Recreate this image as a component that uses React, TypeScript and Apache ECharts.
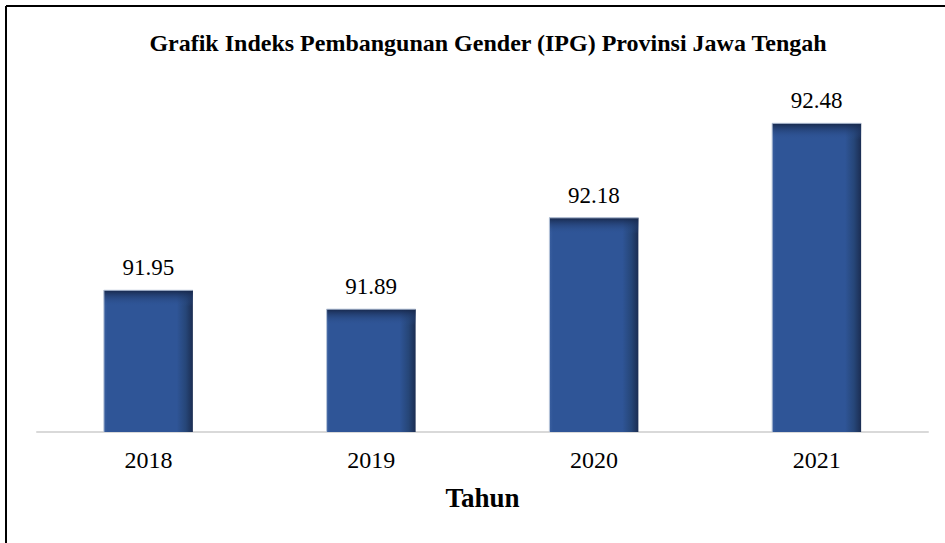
import React, { useEffect, useRef } from "react";
import * as echarts from "echarts";

const categories = ["2018", "2019", "2020", "2021"];
const values = [91.95, 91.89, 92.18, 92.48];
const titleText = "Grafik Indeks Pembangunan Gender (IPG) Provinsi Jawa Tengah";
const axisName = "Tahun";
const yMin = 91.5;
const yMax = 92.6;

const FONT = "Liberation Serif";

export default function App() {
  const ref = useRef<HTMLDivElement>(null);
  useEffect(() => {
    if (!ref.current) return;
    const chart = echarts.init(ref.current, null, { renderer: "svg" });
    const option: any = {
      animation: false,
      backgroundColor: "#ffffff",
      title: {
        text: titleText,
        left: 483,
        textAlign: "center",
        top: 26,
        textStyle: { fontFamily: FONT, fontSize: 24, fontWeight: "bold", color: "#000" },
      },
      grid: { left: 37, right: 17, top: 85.5, bottom: 111, containLabel: false },
      xAxis: {
        type: "category",
        data: categories,
        axisLine: { show: true, lineStyle: { color: "#d9d9d9", width: 2 } },
        axisTick: { show: false },
        axisLabel: { fontFamily: FONT, fontSize: 24, color: "#000", margin: 16 },
        name: axisName,
        nameLocation: "middle",
        nameGap: 52,
        nameTextStyle: { fontFamily: FONT, fontSize: 27, fontWeight: "bold", color: "#000" },
      },
      yAxis: {
        type: "value",
        min: yMin,
        max: yMax,
        show: false,
        splitLine: { show: false },
      },
      graphic: [
        { type: "line", shape: { x1: 6, y1: 6, x2: 945, y2: 6 }, style: { stroke: "#000", lineWidth: 2 }, z: 100 },
        { type: "line", shape: { x1: 6, y1: 6, x2: 6, y2: 543 }, style: { stroke: "#000", lineWidth: 2 }, z: 100 },
      ],
      series: [
        {
          type: "custom",
          data: values.map((v, i) => [i, v]),
          renderItem: (params: any, api: any) => {
            const cat = api.value(0);
            const val = api.value(1);
            const top = api.coord([cat, val]);
            const base = api.coord([cat, yMin]);
            const w = 89;
            const x = top[0] - w / 2;
            const y = top[1];
            const h = base[1] - top[1];
            return {
              type: "group",
              children: [
                {
                  type: "rect",
                  shape: { x, y, width: w, height: h },
                  style: {
                    fill: new echarts.graphic.LinearGradient(0, 0, 1, 0, [
                      { offset: 0, color: "#3a5f9f" },
                      { offset: 0.04, color: "#2f5597" },
                      { offset: 0.82, color: "#2f5597" },
                      { offset: 0.92, color: "#264678" },
                      { offset: 1, color: "#1b2d52" },
                    ]),
                  },
                },
                {
                  type: "rect",
                  shape: { x, y, width: w, height: 16 },
                  style: {
                    fill: new echarts.graphic.LinearGradient(0, 0, 0, 1, [
                      { offset: 0, color: "rgba(22,38,72,0.95)" },
                      { offset: 1, color: "rgba(47,85,151,0)" },
                    ]),
                  },
                },
                {
                  type: "line",
                  shape: { x1: x, y1: y, x2: x, y2: y + h },
                  style: { stroke: "#b9c6da", lineWidth: 1 },
                },
                {
                  type: "line",
                  shape: { x1: x, y1: y, x2: x + w, y2: y },
                  style: { stroke: "#b9c6da", lineWidth: 1 },
                },
                {
                  type: "text",
                  style: {
                    text: val.toFixed(2),
                    x: top[0],
                    y: y - 11,
                    textAlign: "center",
                    textVerticalAlign: "bottom",
                    fontFamily: FONT,
                    fontSize: 23,
                    fill: "#000",
                  },
                },
              ],
            };
          },
        },
      ],
    };
    chart.setOption(option);
    return () => chart.dispose();
  }, []);
  return (
    <div
      ref={ref}
      style={{ position: "fixed", left: 0, top: 0, width: 945, height: 543, background: "#fff" }}
    />
  );
}
